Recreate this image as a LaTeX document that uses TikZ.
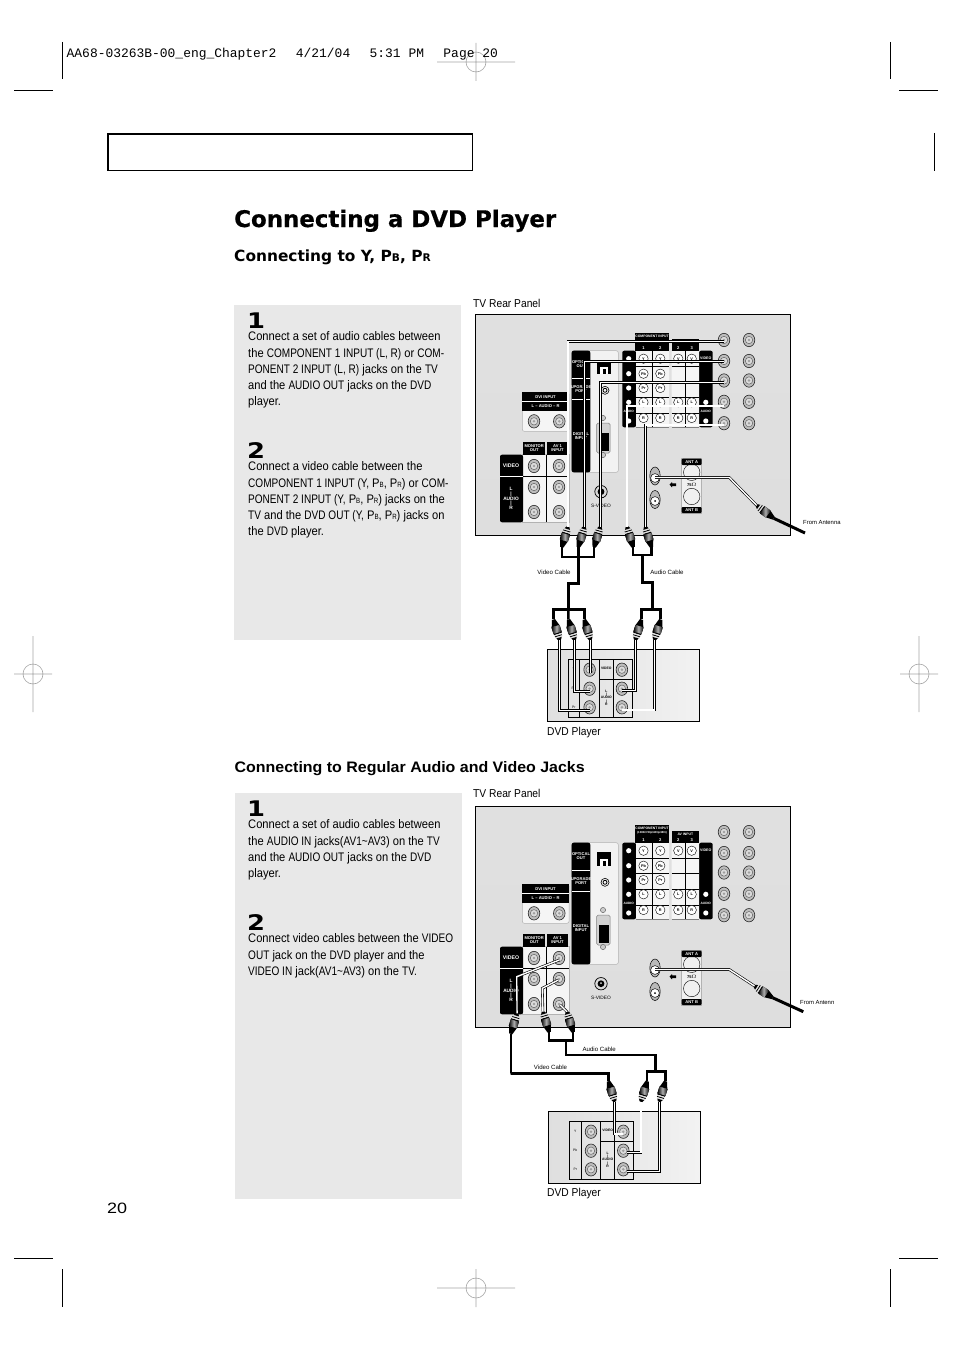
\documentclass[tikz,border=0pt]{standalone}
\usepackage{fontspec}
\setmainfont{Liberation Sans}
\newfontfamily\bodyf{Liberation Sans}[FakeStretch=0.90]
\newfontfamily\capf{Liberation Sans}[FakeStretch=0.81]
\newfontfamily\headf{DejaVu Sans}
\newfontfamily\titlef{DejaVu Sans Bold}[FakeBold=0.5]
\newfontfamily\digf{DejaVu Sans Bold}[FakeStretch=1.2]
\newfontfamily\subf{Liberation Sans Bold}[FakeStretch=1.05]
\newfontfamily\pgf{Liberation Sans}[FakeStretch=1.2]
\newfontfamily\monof{Liberation Mono}
\newcommand\fs[1]{\fontsize{#1}{#1}\selectfont}
\newcommand\sm[1]{{\capf\fontsize{7.6}{7.6}\selectfont #1}}
\newcommand\cp[1]{{\capf #1}}
\tikzset{
 body/.style={font=\bodyf\fontsize{12.4}{16.15}\selectfont,inner sep=0pt,align=left,anchor=north west},
 stepnum/.style={font=\digf\fs{21.5},inner sep=0pt},
 lab/.style={font=\bodyf\fs{11.4},inner sep=0pt,anchor=west},
 tiny/.style={font=\fs{6.1},inner sep=0pt},
 wl/.style={font=\bfseries\fs{4.1},text=white,inner sep=0pt,align=center},
 bl/.style={font=\bfseries\fs{4.1},text=black,inner sep=0pt,align=center},
 wire/.style={draw=black,line width=.6pt,double=white,double distance=1.4pt},
 blk/.style={draw=black,line width=2.5pt,line join=miter},
 crop/.style={draw=black,line width=.7pt},
 reg/.style={draw=gray!70,line width=.6pt},
}
\newcommand\rcajack[2]{%
 \filldraw[draw=black!85,line width=.6pt,fill=gray!52] (#1,#2) ellipse[x radius=5.8,y radius=6.7];
 \filldraw[draw=gray!80!black,line width=.5pt,fill=gray!28] (#1,#2) circle[radius=3.7];
 \fill[gray!75] (#1,#2) circle[radius=1.4];}
\newcommand\smalljack[3]{%
 \draw[black,line width=.4pt,fill=white] (#1,#2) circle[radius=4.7];
 \node[font=\bfseries\fs{3.8},inner sep=0pt] at (#1,#2) {#3};}
\newcommand\rcaplug[4]{%
 \begin{scope}[shift={(#2,#3)},rotate=#4,xscale=1.25]
 \coordinate (#1-t) at (0,-10.5);
 \coordinate (#1-b) at (0,11);
 \fill[black] (-1.3,11)--(1.3,11)--(3.2,4)--(-3.2,4)--cycle;
 \fill[left color=black,right color=black,middle color=gray!65] (-3.4,4) rectangle (3.4,-3);
 \fill[black] (-3.2,-3) rectangle (3.2,-4.2);
 \fill[gray!25] (-3,-4.2) rectangle (3,-5.6);
 \fill[black] (-2.9,-5.6) rectangle (2.9,-6.6);
 \fill[gray!25] (-2.7,-6.6) rectangle (2.7,-8);
 \fill[black] (-2.2,-8)--(2.2,-8)--(1.1,-10.5)--(-1.1,-10.5)--cycle;
 \end{scope}}
\newcommand\tvpanel[3]{% offset, line-2 of component header, offset name
 \begin{scope}[shift={(0,#1)}]
 \shade[top color=gray!24,middle color=gray!8,bottom color=gray!26] (475,314.5) rectangle (790,535.5);
 \draw[black,line width=.8pt] (475,314.5) rectangle (790,535.5);
 \foreach \yy in {340,361,380.5,401.8,423.2}{\rcajack{724}{\yy}\rcajack{749}{\yy}}
 % DVI plate
 \filldraw[draw=gray!60,line width=.5pt,fill=gray!8,rounded corners=2pt] (522.3,392.3) rectangle (569,431.3);
 \fill[black] (522.3,392.3) rectangle (569,410.7);
 \draw[white,line width=.6pt] (522.3,401.3) -- (569,401.3);
 \node[wl] (#3dvi) at (545.6,396.9) {DVI INPUT};
 \node[wl] (#3dvia) at (545.6,406) {L -- AUDIO -- R};
 \rcajack{534}{421.3}\rcajack{559.3}{421.3}
 % AV plate
 \filldraw[draw=gray!60,line width=.5pt,fill=gray!8] (522.7,454.7) rectangle (569,522.3);
 \fill[black] (523.3,442.3) rectangle (545,454.7);
 \fill[black] (546.7,442.3) rectangle (568.3,454.7);
 \fill[black,rounded corners=2pt] (500,454.7) rectangle (523,522.3);
 \draw[white,line width=.6pt] (500,476.3) -- (523,476.3);
 \draw[black,line width=.5pt] (523,476.3) -- (569,476.3) (546,454.7) -- (546,522.3);
 \node[wl] (#3mon) at (534.2,448.5) {MONITOR\\OUT};
 \node[wl] (#3av) at (557.5,448.5) {AV 1\\INPUT};
 \node[wl,font=\bfseries\fs{5.2}] (#3vid) at (511,466) {VIDEO};
 \node[wl,font=\bfseries\fs{4.8}] (#3aud) at (511,498.5) {L\\\textbar\\AUDIO\\\textbar\\R};
 \rcajack{534}{466}\rcajack{534}{487}\rcajack{534}{512}
 \rcajack{559}{466}\rcajack{559}{487}\rcajack{559}{512}
 % centre plate
 \filldraw[draw=gray!60,line width=.5pt,fill=gray!10,rounded corners=2pt] (571.7,350.7) rectangle (618.3,472.3);
 \fill[black,rounded corners=2pt] (571.7,350.7) rectangle (590.3,472.3);
 \draw[white,line width=.5pt] (571.7,378) -- (590.3,378) (571.7,399.7) -- (590.3,399.7);
 \node[wl] (#3opt) at (581,364) {OPTICAL\\OUT};
 \node[wl] (#3upg) at (581,389) {UPGRADE\\PORT};
 \node[wl] (#3dig) at (581,436) {DIGITAL\\INPUT};
 \fill[black] (597.3,360.3) rectangle (611,374);
 \fill[white] (600,367) rectangle (608.3,374);
 \fill[black] (602.5,369) rectangle (605.8,374);
 \draw[black,line width=.6pt] (605,390.3) circle[radius=4];
 \draw[black,line width=.8pt] (605,390.3) circle[radius=2];
 \filldraw[draw=gray,line width=.5pt,fill=gray!35,rounded corners=1.5pt] (596.7,423) rectangle (610,453);
 \fill[black] (599.3,433) rectangle (609,450.7);
 \filldraw[draw=gray!60!black,fill=gray!40,line width=.4pt] (603,418) circle[radius=2.6] (603,455) circle[radius=2.6];
 % S-video
 \draw[black,line width=.7pt,fill=gray!30] (601,491.7) circle[radius=6.2];
 \fill[black] (601,491.7) circle[radius=3.4];
 \fill[gray!30] (601,491) circle[radius=1];
 \node[bl,font=\fs{4.8}] (#3sv) at (601,506.3) {S-VIDEO};
 % component block
 \filldraw[draw=none,fill=black,rounded corners=2pt] (622.3,350.7) rectangle (636,427.3);
 \filldraw[draw=none,fill=black,rounded corners=2pt] (699,350.7) rectangle (712.7,427.3);
 \fill[gray!8] (636,350.7) rectangle (669,427.3) (671.7,350.7) rectangle (699,427.3);
 \foreach \yy in {350.7,366.3,381.3,397.3,413}{\draw[black,line width=.5pt] (636,\yy) -- (669,\yy) (671.7,\yy) -- (699,\yy);}
 \draw[black,line width=.5pt] (652.5,350.7) -- (652.5,427.3) (685.3,350.7) -- (685.3,427.3);
 \draw[gray,line width=.4pt] (636,427.3) -- (669,427.3) (671.7,427.3) -- (699,427.3);
 \fill[black] (635,333) rectangle (669,344.8);
 \fill[black] (671.7,339) rectangle (699,344.8);
 \fill[black] (635,345.4) rectangle (669,350.7);
 \fill[black] (671.7,345.4) rectangle (699,350.7);
 \node[wl,font=\bfseries\fs{3.4}] (#3comp) at (652,336.3) {COMPONENT INPUT};
 \node[wl,font=\bfseries\fs{2.8}] (#3compb) at (652,341.2) {#2};
 \node[wl,font=\bfseries\fs{3.4}] (#3avh) at (685.3,341.9) {AV INPUT};
 \node[wl] (#3n1) at (643.5,348) {1};
 \node[wl] (#3n2) at (660.3,348) {2};
 \node[wl] (#3n3) at (678.3,348) {2};
 \node[wl] (#3n4) at (691.7,348) {3};
 \foreach \yy/\tt in {358.7/Y,373.7/Pb,388/Pr,402.3/L,418/R}{\smalljack{643.5}{\yy}{\tt}\smalljack{660.3}{\yy}{\tt}}
 \foreach \yy/\tt in {358.7/V,402.3/L,418/R}{\smalljack{678.3}{\yy}{\tt}\smalljack{691.7}{\yy}{\tt}}
 \foreach \yy in {358.7,373.7,388,402.3,421}{\fill[white] (628.7,\yy) circle[radius=2.6];}
 \node[wl,font=\bfseries\fs{3.2}] (#3laud) at (628.7,411.5) {AUDIO};
 \fill[white] (705.8,402.3) circle[radius=2.6];
 \fill[white] (705.8,421) circle[radius=2.6];
 \node[wl,font=\bfseries\fs{3.2}] (#3raud) at (705.8,411.5) {AUDIO};
 \node[wl,font=\bfseries\fs{3.6}] (#3rvid) at (705.8,358.7) {VIDEO};
 % antenna
 \filldraw[draw=gray!60,fill=gray!12,line width=.5pt] (681.7,458.7) rectangle (701.7,513);
 \fill[black,rounded corners=1pt] (681.7,458.7) rectangle (701.7,465);
 \fill[black,rounded corners=1pt] (681.7,507) rectangle (701.7,513);
 \node[wl] (#3anta) at (691.7,461.9) {ANT A};
 \node[wl] (#3antb) at (691.7,510) {ANT B};
 \draw[black,line width=.4pt] (691.7,472.3) circle[radius=8.2] (691.7,496.5) circle[radius=8.2];
 \node[bl] (#3ohm) at (691.7,484.6) {75$\Omega$};
 \fill[black] (672,483.3) rectangle (676,486) (672,482) -- (669.5,484.7) -- (672,487.3) -- cycle;
 \filldraw[draw=black,line width=.5pt,fill=gray!55] (655,476) ellipse[x radius=5.2,y radius=9];
 \filldraw[draw=black,line width=.5pt,fill=white] (655,478) circle[radius=4.4];
 \filldraw[draw=black,line width=.5pt,fill=gray!55] (655,499.5) ellipse[x radius=5.2,y radius=9];
 \filldraw[draw=black,line width=.5pt,fill=white] (655,501) circle[radius=4.4];
 \fill[black] (655,501) circle[radius=1];
 \end{scope}}
\newcommand\dvdunit[3]{%
 \begin{scope}[shift={(#1,#2)}]
 \shade[left color=gray!25,right color=gray!10] (0,0) rectangle (152,72);
 \draw[black,line width=.7pt] (0,0) rectangle (152,72);
 \draw[black,line width=.6pt] (21,10.3) rectangle (85,68);
 \draw[black,line width=.6pt] (32.3,10.3) -- (32.3,68) (51.7,10.3) -- (51.7,68) (66,10.3) -- (66,68) (51.7,29.7) -- (85,29.7);
 \foreach \yy in {20.4,39.4,58}{\rcajack{42.3}{\yy}}
 \foreach \yy in {20.4,39.4,58}{\rcajack{74.6}{\yy}}
 \node[font=\fs{3.4},inner sep=0pt] (#3y) at (26.5,20.4) {Y};
 \node[font=\fs{3.4},inner sep=0pt] (#3pb) at (26.5,39.4) {Pb};
 \node[font=\fs{3.4},inner sep=0pt] (#3pr) at (26.5,58) {Pr};
 \node[font=\bfseries\fs{3.4},inner sep=0pt] (#3v) at (59,19.4) {VIDEO};
 \node[font=\bfseries\fs{3.4},inner sep=0pt,align=center] (#3a) at (59,48.5) {L\\\textbar\\AUDIO\\\textbar\\R};
 \end{scope}}
\begin{document}
\begin{tikzpicture}[x=1pt,y=-1pt]
\path[use as bounding box,fill=white] (0,0) rectangle (954,1351);
% print marks
\foreach \xx/\yy in {476/62,476/1288}{
 \draw[reg] (\xx-39,\yy) -- (\xx+39,\yy) (\xx,\yy-19) -- (\xx,\yy+19) (\xx,\yy) circle[radius=10];}
\foreach \xx/\yy in {33/674,919/674}{
 \draw[reg] (\xx-19,\yy) -- (\xx+19,\yy) (\xx,\yy-38) -- (\xx,\yy+38) (\xx,\yy) circle[radius=10];}
\draw[crop] (62,42) -- (62,79) (14,90) -- (53,90) (890,42) -- (890,79) (899,90) -- (938,90) (934,133) -- (934,171);
\draw[crop] (62,1269) -- (62,1307) (14,1258) -- (53,1258) (890,1269) -- (890,1307) (899,1258) -- (938,1258);
\node[font=\monof\fs{12.95},inner sep=0pt,anchor=west] (hdr) at (66.5,54) {AA68-03263B-00\_eng\_Chapter2\hspace{19.4pt}4/21/04\hspace{19.4pt}5:31~PM\hspace{19.4pt}Page~20};
% title rectangle
\draw[black,line width=1pt] (108,134) rectangle (472.3,170.4);
\draw[black,line width=2pt] (108,170.8) -- (108,134) -- (472.7,134);
% headings
\node[font=\titlef\fs{22.9},inner sep=0pt,anchor=base west] (title) at (234,227) {Connecting a DVD Player};
\node[font=\headf\bfseries\fs{15.4},inner sep=0pt,anchor=base west] (sub1) at (234,261.5) {Connecting to Y, P{\fs{10.6}B}, P{\fs{10.6}R}};
\node[font=\subf\fs{15.2},inner sep=0pt,anchor=base west] (sub2) at (234.5,772.5) {Connecting to Regular Audio and Video Jacks};
\node[font=\pgf\fs{15},inner sep=0pt,anchor=base west] (pg) at (107,1213) {20};
% grey boxes
\fill[gray!18] (234,305) rectangle (461,640);
\fill[gray!18] (235,793) rectangle (462,1199);
\node[stepnum,anchor=base] (s1a) at (256,328.5) {1};
\node[stepnum,anchor=base] (s2a) at (256,458.5) {2};
\node[stepnum,anchor=base] (s1b) at (256,816.5) {1};
\node[stepnum,anchor=base] (s2b) at (256,930) {2};
\node[body] (t1a) at (248,331.7) {Connect a set of audio cables between\\the \cp{COMPONENT 1 INPUT (L, R)} or \cp{COM-}\\\cp{PONENT 2 INPUT (L, R)} jacks on the \cp{TV}\\and the \cp{AUDIO OUT} jacks on the \cp{DVD}\\player.};
\node[body] (t2a) at (248,461.7) {Connect a video cable between the\\\cp{COMPONENT 1 INPUT (Y,} P\sm{B}, P\sm{R}) or \cp{COM-}\\\cp{PONENT 2 INPUT (Y,} P\sm{B}, P\sm{R}) jacks on the\\\cp{TV} and the \cp{DVD OUT (Y,} P\sm{B}, P\sm{R}) jacks on\\the \cp{DVD} player.};
\node[body] (t1b) at (248,819.7) {Connect a set of audio cables between\\the \cp{AUDIO IN} jacks(\cp{AV1\textasciitilde AV3}) on the \cp{TV}\\and the \cp{AUDIO OUT} jacks on the \cp{DVD}\\player.};
\node[body] (t2b) at (248,933.7) {Connect video cables between the \cp{VIDEO}\\\cp{OUT} jack on the \cp{DVD} player and the\\\cp{VIDEO IN} jack(\cp{AV1\textasciitilde AV3}) on the \cp{TV.}};
\node[lab] (rp1) at (473,303.5) {TV Rear Panel};
\node[lab] (rp2) at (473,793.5) {TV Rear Panel};
\node[lab] (dp1) at (547,732.5) {DVD Player};
\node[lab] (dp2) at (547,1193.5) {DVD Player};
% ---------- upper diagram ----------
\tvpanel{0}{}{a}
\dvdunit{547.3}{649.3}{da}
\foreach \nm/\xx/\yy in {ja1/724/341.7,ja2/724/361.7,ja3/724/382.7,ja4/724/406,ja5/724/425,
  da1/590.5/673,da2/590/691.3,da3/590/710.3,da4/622/690.7,da5/622/710,
  vb1/577.3/557,vk1/568.3/583.3,vb2/568.3/609.3,ab1/642.5/555,ak1/652.7/582.7,ab2/652.7/609.3}{
 \coordinate (\nm) at (\xx,\yy);}
\rcaplug{pa1}{565}{536.7}{-17}\rcaplug{pa2}{581.5}{536.7}{-17}\rcaplug{pa3}{597.3}{536.7}{-17}
\rcaplug{pa4}{630}{536.7}{17}\rcaplug{pa5}{648.3}{536.7}{17}
\rcaplug{qa1}{556.7}{630}{-163}\rcaplug{qa2}{571.7}{630}{-163}\rcaplug{qa3}{587.5}{630}{-163}
\rcaplug{qa4}{638.3}{630}{163}\rcaplug{qa5}{657.5}{630}{163}
\draw[wire] (pa1-t) |- (ja1);
\draw[wire] (pa2-t) |- (ja2);
\draw[wire] (pa3-t) |- (ja3);
\draw[wire] (pa4-t) |- (ja4);
\draw[wire] (pa5-t) |- (ja5);
\draw[wire] (qa1-t) |- (da3);
\draw[wire] (qa2-t) |- (da2);
\draw[wire] (qa3-t) -- (da1 -| qa3-t);
\draw[wire] (qa4-t) |- (da4);
\draw[wire] (qa5-t) |- (da5);
\draw[blk] (pa1-b) |- (vb1) -| (pa3-b);
\draw[blk] (pa2-b) -- (vb1 -| pa2-b) |- (vk1) -- (vb2);
\draw[blk] (qa1-b) |- (vb2) -| (qa3-b);
\draw[blk] (vb2) -- (qa2-b);
\draw[blk] (pa4-b) |- (ab1) -| (pa5-b);
\draw[blk] (ab1) |- (ak1) -- (ab2);
\draw[blk] (qa4-b) |- (ab2) -| (qa5-b);
\node[tiny] (vc1) at (554,572.7) {Video Cable};
\node[tiny] (ac1) at (667,572.7) {Audio Cable};
\coordinate (aj1) at (655,477.5);
\coordinate (ak2) at (729.3,477.5);
\coordinate (ae1) at (805,533);
\rcaplug{pa6}{765}{511.7}{53}
\draw[wire] (aj1) -- (ak2) -- (pa6-t);
\draw[black,line width=3pt] (pa6-b) -- (ae1);
\node[tiny,anchor=west,font=\fs{5.9}] (fa1) at (803,522) {From Antenna};
% ---------- lower diagram ----------
\tvpanel{492}{(1080i/720p/480p/480i)}{b}
\dvdunit{548.7}{1111.3}{db}
\foreach \nm/\xx/\yy in {jb1/559.3/960,jb1k/516.7/976.7,jb2/558.3/980,jb2k/542.3/988.3,jb3/560/1005,
  db1/623.3/1134,db2/626.7/1152.7,db3/626.7/1171.7,
  vc2/510.7/1073.3,bb1/566/1040.7,bb2/655.7/1055,bb3/655.7/1071.7}{
 \coordinate (\nm) at (\xx,\yy);}
\rcaplug{pb1}{514}{1023.3}{-17}\rcaplug{pb2}{546}{1021.7}{17}\rcaplug{pb3}{570}{1021.7}{17}
\rcaplug{qb1}{611.7}{1091.7}{-163}\rcaplug{qb2}{644}{1091.7}{163}\rcaplug{qb3}{662.3}{1091.7}{163}
\draw[wire] (pb1-t) -- (jb1k) -- (jb1);
\draw[wire] (pb2-t) -- (jb2k) -- (jb2);
\draw[wire] (pb3-t) -- (jb3);
\draw[wire] (qb1-t) |- (db1);
\draw[wire] (qb2-t) |- (db2);
\draw[wire] (qb3-t) |- (db3);
\draw[blk] (pb1-b) |- (vc2) -| (qb1-b);
\draw[blk] (pb2-b) |- (bb1) -| (pb3-b);
\draw[blk] (bb1) |- (bb2) -- (bb3);
\draw[blk] (qb2-b) |- (bb3) -| (qb3-b);
\node[tiny] (vc3) at (550.5,1067.3) {Video Cable};
\node[tiny] (ac3) at (599.2,1049.3) {Audio Cable};
\coordinate (aj2) at (655,969.5);
\coordinate (ak3) at (729.3,969.5);
\coordinate (ae2) at (803.3,1011.7);
\rcaplug{pb6}{763.3}{991.7}{57}
\draw[wire] (aj2) -- (ak3) -- (pb6-t);
\draw[black,line width=3pt] (pb6-b) -- (ae2);
\node[tiny,anchor=west,font=\fs{5.9}] (fa2) at (800,1002.3) {From Antenn};
\end{tikzpicture}
\end{document}
